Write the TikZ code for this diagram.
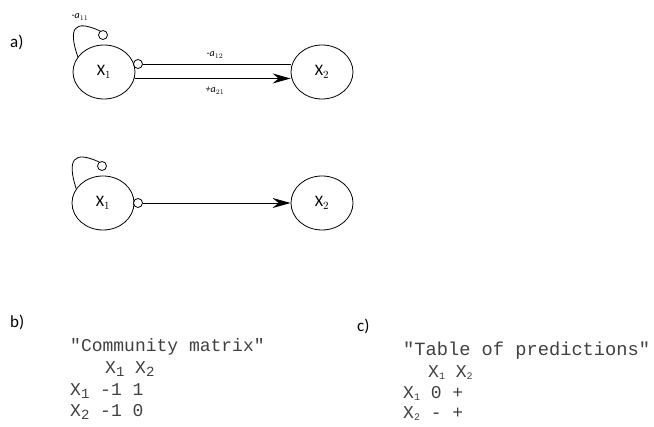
\documentclass[tikz,border=0pt]{standalone}
\usepackage{fontspec}
\setmainfont{Carlito}
\newfontfamily\monof{Liberation Mono}
\usetikzlibrary{arrows.meta,shapes.geometric}
\tikzset{
  species/.style={draw, ellipse, minimum width=62pt, minimum height=54pt, inner sep=0pt, line width=0.8pt, font=\fontsize{16}{18}\selectfont},
  knob/.style={draw, circle, minimum size=9pt, inner sep=0pt, fill=white, line width=0.8pt},
  link/.style={line width=0.8pt},
  posarrow/.style={line width=0.9pt, -{Stealth[length=18pt,width=10pt,inset=6pt]}},
  elab/.style={font=\fontsize{10}{11}\selectfont\itshape, inner sep=0pt},
  plabel/.style={font=\fontsize{17}{18}\selectfont, anchor=base west, inner sep=0pt},
  tline/.style={font=\monof\fontsize{18}{20}\selectfont, text=black!75, anchor=base west, inner sep=0pt},
  tlinec/.style={font=\monof\fontsize{18.7}{20}\selectfont, text=black!75, anchor=base west, inner sep=0pt}
}
\newcommand{\bsub}[1]{\raisebox{-3pt}{\fontsize{14}{14}\selectfont #1}}
\newcommand{\csub}[1]{\raisebox{-2pt}{\fontsize{10}{10}\selectfont #1}}
\begin{document}
\begin{tikzpicture}[x=1pt,y=-1pt]
\useasboundingbox (0,0) rectangle (654,427);
% a)
\node[plabel] (la) at (10,48) {a)};
% top diagram
\node[species] (x1a) at (104,72) {X$_1$};
\node[species] (x2a) at (322,72) {X$_2$};
\node[knob] (s11) at (103,35) {};
\node[knob] (s12) at (138,64) {};
\draw[link] (x1a.150) .. controls (68,28) and (74,19) .. (s11.125);
\draw[link] (s12.east) -- (s12.east -| x2a.west);
\coordinate (p1) at (x1a.-12);
\draw[posarrow] (p1) -- (p1 -| x2a.west);
\node[elab] (l11) at (80,17) {-a$_{11}$};
\node[elab] (l12) at (215,55) {-a$_{12}$};
\node[elab] (l21) at (215,91) {+a$_{21}$};
% bottom diagram
\node[species] (x1b) at (103,203) {X$_1$};
\node[species] (x2b) at (322,203) {X$_2$};
\node[knob] (s1b) at (102,166) {};
\node[knob] (s2b) at (138,203) {};
\draw[link] (x1b.152) .. controls (67,160) and (73,150) .. (s1b.125);
\draw[posarrow] (s2b.east) -- (x2b.west);
% b)
\node[plabel] (lb) at (10,328) {b)};
\node[tline] (b0) at (70,352) {"Community matrix"};
\node[tline] (b1) at (105,374) {X\bsub{1} X\bsub{2}};
\node[tline] (b2) at (70,396) {X\bsub{1} -1 1};
\node[tline] (b3) at (70,417) {X\bsub{2} -1 0};
% c)
\node[plabel] (lc) at (357,332) {c)};
\node[tlinec] (c0) at (403,356) {"Table of predictions"};
\node[tline] (c1) at (428,378) {X\csub{1} X\csub{2}};
\node[tline] (c2) at (403,399) {X\csub{1} 0 +};
\node[tline] (c3) at (403,419) {X\csub{2} - +};
\end{tikzpicture}
\end{document}
